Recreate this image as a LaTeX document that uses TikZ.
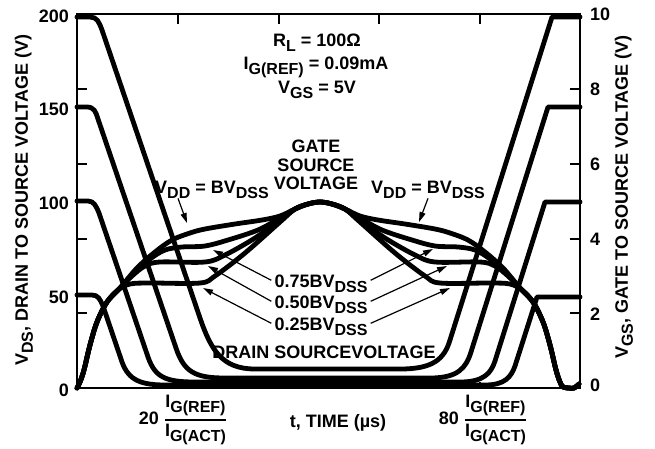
\documentclass[tikz,border=0pt]{standalone}
\usepackage{amsmath}
\usepackage{fontspec}
\setmainfont{Liberation Sans}
\usepackage{tikz}
\usetikzlibrary{arrows.meta}

\newcommand{\labfont}{\fontsize{18}{20}\selectfont\bfseries}
\newcommand{\subtxt}[1]{\raisebox{-5pt}{\fontsize{16}{16}\selectfont\bfseries #1}}

\begin{document}
\begin{tikzpicture}[x=1pt, y=-1pt, every node/.style={font=\labfont, inner sep=0pt},
    curve/.style={line width=4.8pt, line join=round, line cap=round},
    frame/.style={line width=1.2pt},
    pointer/.style={line width=1.2pt, -{Triangle[length=10pt, width=6pt]}}]
  \useasboundingbox (0,0) rectangle (655,448);

  % frame and ticks
  \draw[frame] (77,14) rectangle (580,388);
  \foreach \y in {89,164,239,313} {
    \draw[frame] (77,\y) -- (87,\y);
    \draw[frame] (570,\y) -- (580,\y);
  }
  \foreach \x in {178,279,379,480} {
    \draw[frame] (\x,14) -- (\x,24);
    \draw[frame] (\x,388) -- (\x,382);
  }

  % scale labels
  \foreach \v/\y in {200/16,150/109,100/203,50/297,0/390}
    \node[anchor=east] (vds\v) at (69,\y) {\v};
  \foreach \v/\y in {10/14,8/89,6/164,4/239,2/314,0/385}
    \node[anchor=west] (vgs\v) at (590,\y) {\v};

  \node[rotate=90] (ytitleL) at (24,200) {V\subtxt{DS}, DRAIN TO SOURCE VOLTAGE (V)};
  \node[rotate=90] (ytitleR) at (624,197) {V\subtxt{GS}, GATE TO SOURCE VOLTAGE (V)};
  \node[anchor=base] (xtitle) at (338,427) {t, TIME (µs)};
  \node (t20) at (183,420) {20 $\genfrac{}{}{1.2pt}{0}{\text{I\subtxt{G(REF)}}}{\text{I\subtxt{G(ACT)}}}$};
  \node (t80) at (483,420) {80 $\genfrac{}{}{1.2pt}{0}{\text{I\subtxt{G(REF)}}}{\text{I\subtxt{G(ACT)}}}$};

  % drain source voltage
  \draw[curve] (77,17) -- (90,17) .. controls (97,17) and (99,22) .. (102,30) -- (200,318)
    .. controls (211,350) and (222,369) .. (255,369) -- (400,369)
    .. controls (432,369) and (444,360) .. (450,340) -- (552,17) -- (580,17);
  \draw[curve] (77,107) -- (87,107) .. controls (94,107) and (96,112) .. (98,119) -- (176,348)
    .. controls (184,372) and (195,378) .. (225,378) -- (430,378)
    .. controls (458,378) and (466,368) .. (471,352) -- (548,107) -- (580,107);
  \draw[curve] (77,201) -- (88,201) .. controls (94,201) and (96,206) .. (99,213) -- (148,357)
    .. controls (155,377) and (165,382) .. (195,382) -- (460,382)
    .. controls (484,382) and (491,373) .. (495,361) -- (545,202) -- (580,202);
  \draw[curve] (77,295) -- (92,295) .. controls (98,295) and (100,299) .. (103,306) -- (121,359)
    .. controls (127,378) and (137,385) .. (165,385) -- (485,385)
    .. controls (505,385) and (511,377) .. (515,366) -- (537,297) -- (580,297);

  % gate source voltage
  \draw[curve] plot[smooth, tension=0.55] coordinates {(77,388) (80,382) (84,370) (90,345) (97,322)
    (107,302) (120,288) (137,268) (155,252) (172,240) (190,233) (205,229) (235,224) (262,220)
    (280,216) (295,209) (308,204) (320,202) (332,204) (345,209) (360,216) (378,220) (405,224)
    (435,229) (450,233) (468,240) (485,252) (503,268) (520,288) (533,302) (543,322) (550,345)
    (556,370) (560,382) (563,387) (569,388) (574,388) (579,384)};
  \draw[curve] plot[smooth, tension=0.55] coordinates {(77,388) (80,382) (84,370) (90,345) (97,322)
    (107,302) (120,288) (135,272) (150,259) (165,250) (182,247) (205,246) (228,240) (258,230)
    (280,218) (295,209) (308,204) (320,202) (332,204) (345,209) (360,218) (382,230) (412,240)
    (435,246) (458,247) (475,250) (490,259) (505,272) (520,288) (533,302) (543,322) (550,345)
    (556,370) (560,382) (563,387) (569,388) (574,388) (579,384)};
  \draw[curve] plot[smooth, tension=0.55] coordinates {(77,388) (80,382) (84,370) (90,345) (97,322)
    (107,302) (120,288) (132,276) (145,266) (160,262) (205,262) (225,255) (255,238) (280,220)
    (295,209) (308,204) (320,202) (332,204) (345,209) (360,220) (385,238) (415,255) (435,262)
    (480,262) (495,266) (508,276) (520,288) (533,302) (543,322) (550,345) (556,370) (560,382)
    (563,387) (569,388) (574,388) (579,384)};
  \draw[curve] plot[smooth, tension=0.55] coordinates {(77,388) (80,382) (84,370) (90,345) (97,322)
    (107,302) (118,290) (130,284) (150,283) (200,283) (215,276) (245,253) (280,222) (295,209)
    (308,204) (320,202) (332,204) (345,209) (360,222) (395,253) (425,276) (440,283) (490,283)
    (510,284) (522,290) (533,302) (543,322) (550,345) (556,370) (560,382) (563,387) (569,388)
    (574,388) (579,384)};

  % conditions
  \node[anchor=base] (rload) at (317,46) {R\subtxt{L} = 100Ω};
  \node[anchor=base] (igref) at (316,69) {I\subtxt{G(REF)} = 0.09mA};
  \node[anchor=base] (vgsset) at (317,93) {V\subtxt{GS} = 5V};
  \node[align=center, font=\fontsize{18}{18.5}\selectfont\bfseries] (gsv) at (316,165) {GATE\\SOURCE\\VOLTAGE};
  \node[anchor=base] (dsv) at (324,358) {DRAIN SOURCEVOLTAGE};

  % pointers
  \node[anchor=base] (vddL) at (212,193) {V\subtxt{DD} = BV\subtxt{DSS}};
  \node[anchor=base] (vddR) at (428,193) {V\subtxt{DD} = BV\subtxt{DSS}};
  \node[anchor=base] (lab75) at (321,287) {0.75BV\subtxt{DSS}};
  \node[anchor=base] (lab50) at (321,308) {0.50BV\subtxt{DSS}};
  \node[anchor=base] (lab25) at (321,330) {0.25BV\subtxt{DSS}};
  \coordinate (tipL) at (187,223);
  \coordinate (tipR) at (419,222);
  \coordinate (tip75L) at (213,250);
  \coordinate (tip50L) at (208,266);
  \coordinate (tip25L) at (203,288);
  \coordinate (tip75R) at (433,249);
  \coordinate (tip50R) at (447,266);
  \coordinate (tip25R) at (450,288);
  \draw[pointer] ([xshift=-34pt]vddL.south) -- (tipL);
  \draw[pointer] (vddR.south) -- (tipR);
  \draw[pointer] ([xshift=-3pt, yshift=3pt]lab75.west) -- (tip75L);
  \draw[pointer] ([xshift=-3pt, yshift=3pt]lab50.west) -- (tip50L);
  \draw[pointer] ([xshift=-3pt, yshift=3pt]lab25.west) -- (tip25L);
  \draw[pointer] ([xshift=3pt, yshift=3pt]lab75.east) -- (tip75R);
  \draw[pointer] ([xshift=3pt, yshift=3pt]lab50.east) -- (tip50R);
  \draw[pointer] ([xshift=3pt, yshift=3pt]lab25.east) -- (tip25R);
\end{tikzpicture}
\end{document}
